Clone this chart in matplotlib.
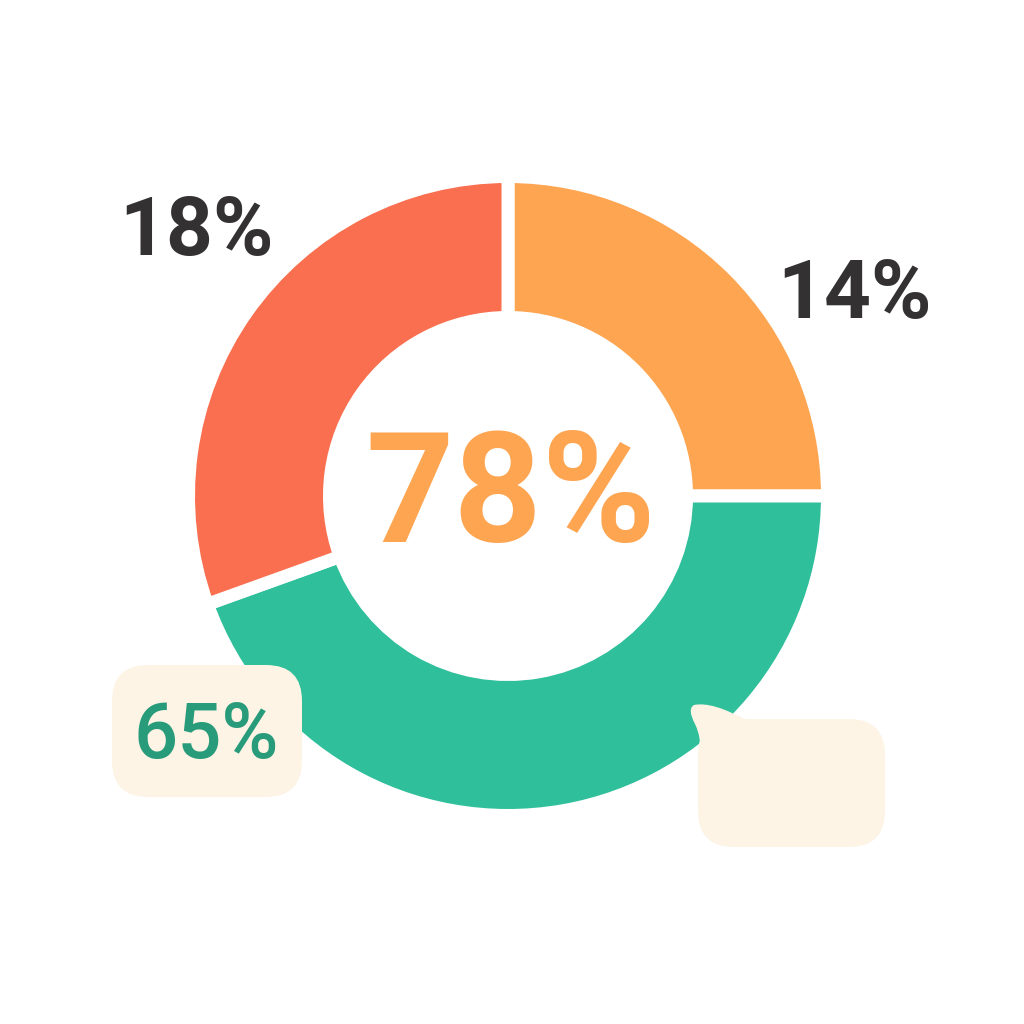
import matplotlib
matplotlib.use("Agg")
import matplotlib.pyplot as plt
from matplotlib.patches import FancyBboxPatch, PathPatch
from matplotlib.path import Path

# arc share of each ring segment as drawn (percent of the circle), clockwise from 12 o'clock
segments = ["orange", "green", "red"]
arc_share = [25.0, 44.5, 30.5]
seg_colors = ["#FEA552", "#2FBF9B", "#F96F4F"]

# labels printed on the chart
center_label = "78%"
side_labels = ["14%", "65%", "18%"]

H = 1024


def Y(y):
    # picture rows run downwards, axes run upwards
    return H - y


fig = plt.figure(figsize=(10.24, 10.24), dpi=100)
ax = fig.add_axes([0, 0, 1, 1])

cx, cy = 508, Y(496)
r_out, r_in = 313, 185
gap = 13  # px, white gap between segments
half = gap / 2

ax.pie(arc_share, colors=seg_colors, startangle=90, counterclock=False,
       radius=r_out + half, center=(cx, cy), frame=True,
       wedgeprops=dict(width=(r_out + half) - (r_in - half),
                       edgecolor="white", linewidth=gap * 0.72,
                       joinstyle="round"))

font = "Roboto"
dark = "#333132"

ax.text(196, Y(255), side_labels[2], fontsize=59, fontweight="bold",
        family=font, color=dark, ha="center", va="baseline")
ax.text(855, Y(318), side_labels[0], fontsize=59, fontweight="bold",
        family=font, color=dark, ha="center", va="baseline")
ax.text(511, Y(542), center_label, fontsize=111, fontweight="bold",
        family=font, color=seg_colors[0], ha="center", va="baseline")

# left bubble with the 65% label
bubble = "#FDF4E6"
ax.add_patch(FancyBboxPatch((112, Y(797)), 190, 132,
                            boxstyle="round,pad=0,rounding_size=36",
                            fc=bubble, ec="none", zorder=3))
ax.text(206, Y(758), side_labels[1], fontsize=56, fontweight="medium",
        family=font, color="#289B7A", ha="center", va="baseline", zorder=4)

# empty speech bubble on the right
ax.add_patch(FancyBboxPatch((698, Y(847)), 187, 128,
                            boxstyle="round,pad=0,rounding_size=36",
                            fc=bubble, ec="none", zorder=3))
tail = Path([(748, Y(721)), (712, Y(701)), (694, Y(705)),
             (687, Y(709)), (695, Y(724)),
             (702, Y(738)), (700, Y(758)),
             (748, Y(758)), (748, Y(721))],
            [Path.MOVETO, Path.CURVE3, Path.CURVE3,
             Path.CURVE3, Path.CURVE3,
             Path.CURVE3, Path.CURVE3,
             Path.LINETO, Path.CLOSEPOLY])
ax.add_patch(PathPatch(tail, fc=bubble, ec="none", zorder=3))

ax.set_xlim(0, H)
ax.set_ylim(0, H)
ax.set_aspect("equal")
ax.axis("off")

fig.savefig("out.png", dpi=100, facecolor="white")
